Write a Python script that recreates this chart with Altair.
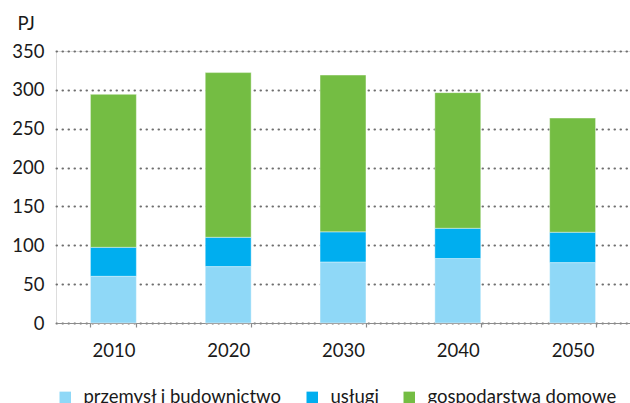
import altair as alt
import pandas as pd

years = ["2010", "2020", "2030", "2040", "2050"]
series = ["przemysł i budownictwo", "usługi", "gospodarstwa domowe"]
przemysl = [60.1, 72.6, 78.6, 82.9, 77.7]
uslugi = [37.3, 37.7, 38.7, 39.0, 39.1]
gospodarstwa = [196.8, 211.9, 201.7, 174.5, 146.9]
colors = ["#8fd8f7", "#00aeef", "#74bd43"]
y_ticks = [0, 50, 100, 150, 200, 250, 300, 350]

rows = []
for i, y in enumerate(years):
    for k, (name, vals) in enumerate(zip(series, [przemysl, uslugi, gospodarstwa])):
        rows.append({"rok": y, "sektor": name, "wartosc": vals[i], "kolejnosc": k})
df = pd.DataFrame(rows)

FONT = "Lato"

chart = alt.Chart(df).mark_bar(
    stroke="white", strokeWidth=0.8, strokeOpacity=0.5
).encode(
    x=alt.X(
        "rok:N",
        sort=years,
        scale=alt.Scale(paddingInner=0.6, paddingOuter=0.3),
        axis=alt.Axis(
            title=None,
            labelAngle=0,
            labelFont=FONT,
            labelFontSize=18.5,
            labelColor="#1a1a1a",
            labelPadding=14,
            domainColor="#8c8c8c",
            domainWidth=1.2,
            tickColor="#8c8c8c",
            tickSize=4,
            tickWidth=1.2,
            tickBand="extent",
            grid=False,
        ),
    ),
    y=alt.Y(
        "wartosc:Q",
        stack="zero",
        scale=alt.Scale(domain=[0, 350], nice=False),
        axis=alt.Axis(
            values=y_ticks,
            title="PJ",
            titleAngle=0,
            titleX=-39,
            titleY=-22,
            titleAlign="left",
            titleBaseline="alphabetic",
            titleFont=FONT,
            titleFontSize=18.5,
            titleFontWeight="normal",
            titleColor="#1a1a1a",
            labelFont=FONT,
            labelFontSize=18.5,
            labelColor="#1a1a1a",
            labelPadding=12,
            domain=False,
            ticks=False,
            grid=True,
            gridColor="#6f6f6f",
            gridDash=[0.5, 5.5],
            gridCap="round",
            gridWidth=2,
        ),
    ),
    color=alt.Color(
        "sektor:N",
        sort=series,
        scale=alt.Scale(domain=series, range=colors),
        legend=alt.Legend(
            title=None,
            orient="none",
            direction="horizontal",
            legendX=0,
            legendY=337,
            padding=0,
            symbolType="square",
            symbolSize=132,
            symbolStrokeWidth=0,
            labelFont=FONT,
            labelFontSize=18.5,
            labelColor="#1a1a1a",
            labelOffset=9,
            labelLimit=400,
            columnPadding=21,
        ),
    ),
    order=alt.Order("kolejnosc:Q", sort="ascending"),
).properties(
    width=574,
    height=272,
    autosize=alt.AutoSizeParams(type="none"),
    padding={"left": 56, "top": 51, "right": 0, "bottom": 80},
).configure_view(
    stroke=None
).configure(background="white")

chart.save("out.html", embed_options={"renderer": "svg", "actions": False})
